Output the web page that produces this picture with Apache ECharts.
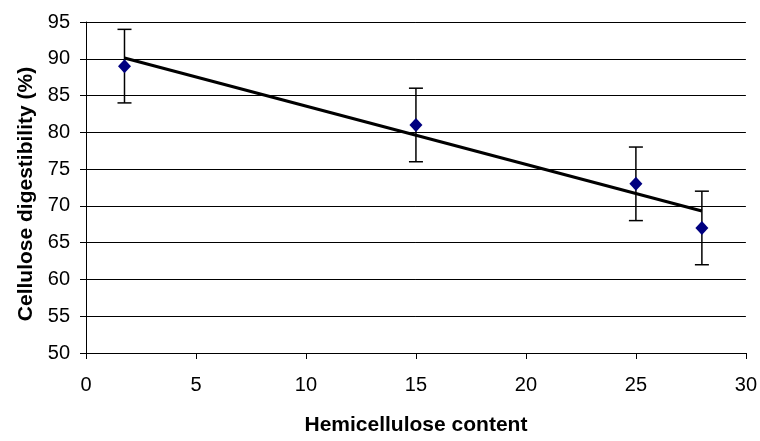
<!DOCTYPE html>
<html><head><meta charset="utf-8">
<script src="https://cdn.jsdelivr.net/npm/echarts@6/dist/echarts.min.js"></script>
<style>html,body{margin:0;padding:0;background:#fff}#c{width:760px;height:441px}</style>
</head><body><div id="c"></div>
<script>
const xValues = [1.75, 15, 25, 28];
const yValues = [89, 81, 73, 67];
const errValues = [5, 5, 5, 5];
const trendX = [1.75, 28];
const trendY = [90.1, 69.3];

const chart = echarts.init(document.getElementById('c'));
const font = 'Liberation Sans, Arial, sans-serif';
chart.setOption({
  animation: false,
  backgroundColor: '#fff',
  grid: {left: 86, right: 13, top: 22, bottom: 82, containLabel: false},
  xAxis: {
    type: 'value', min: 0, max: 30, interval: 5,
    name: 'Hemicellulose content', nameLocation: 'middle', nameGap: 62,
    nameTextStyle: {fontFamily: font, fontSize: 21, fontWeight: 'bold', color: '#000'},
    axisLine: {show: true, onZero: false, lineStyle: {color: '#000', width: 1}},
    axisTick: {show: true, length: 6, lineStyle: {color: '#000'}},
    axisLabel: {fontFamily: font, fontSize: 20, color: '#000', margin: 22},
    splitLine: {show: false}
  },
  yAxis: {
    type: 'value', min: 50, max: 95, interval: 5,
    name: 'Cellulose digestibility (%)', nameLocation: 'middle', nameGap: 49, nameRotate: 90,
    nameTextStyle: {fontFamily: font, fontSize: 21, fontWeight: 'bold', color: '#000', padding: [0, 13, 0, 0]},
    axisLine: {show: true, lineStyle: {color: '#000', width: 1}},
    axisTick: {show: true, length: 6, lineStyle: {color: '#000'}},
    axisLabel: {fontFamily: font, fontSize: 20, color: '#000', margin: 16},
    splitLine: {show: true, lineStyle: {color: '#000', width: 1}}
  },
  series: [
    {
      type: 'line', data: trendX.map((x, i) => [x, trendY[i]]),
      symbol: 'none', lineStyle: {color: '#000', width: 3}, z: 3
    },
    {
      type: 'custom',
      data: xValues.map((x, i) => [x, yValues[i] - errValues[i], yValues[i] + errValues[i]]),
      renderItem: function (params, api) {
        const lo = api.coord([api.value(0), api.value(1)]);
        const hi = api.coord([api.value(0), api.value(2)]);
        const w = 7;
        const style = {stroke: '#000', lineWidth: 1.5};
        return {type: 'group', children: [
          {type: 'line', shape: {x1: lo[0], y1: lo[1], x2: hi[0], y2: hi[1]}, style: style},
          {type: 'line', shape: {x1: lo[0] - w, y1: lo[1], x2: lo[0] + w, y2: lo[1]}, style: style},
          {type: 'line', shape: {x1: hi[0] - w, y1: hi[1], x2: hi[0] + w, y2: hi[1]}, style: style}
        ]};
      },
      z: 4
    },
    {
      type: 'scatter', data: xValues.map((x, i) => [x, yValues[i]]),
      symbol: 'diamond', symbolSize: [13, 14],
      itemStyle: {color: '#000080', opacity: 1}, z: 5
    }
  ]
});
</script></body></html>
